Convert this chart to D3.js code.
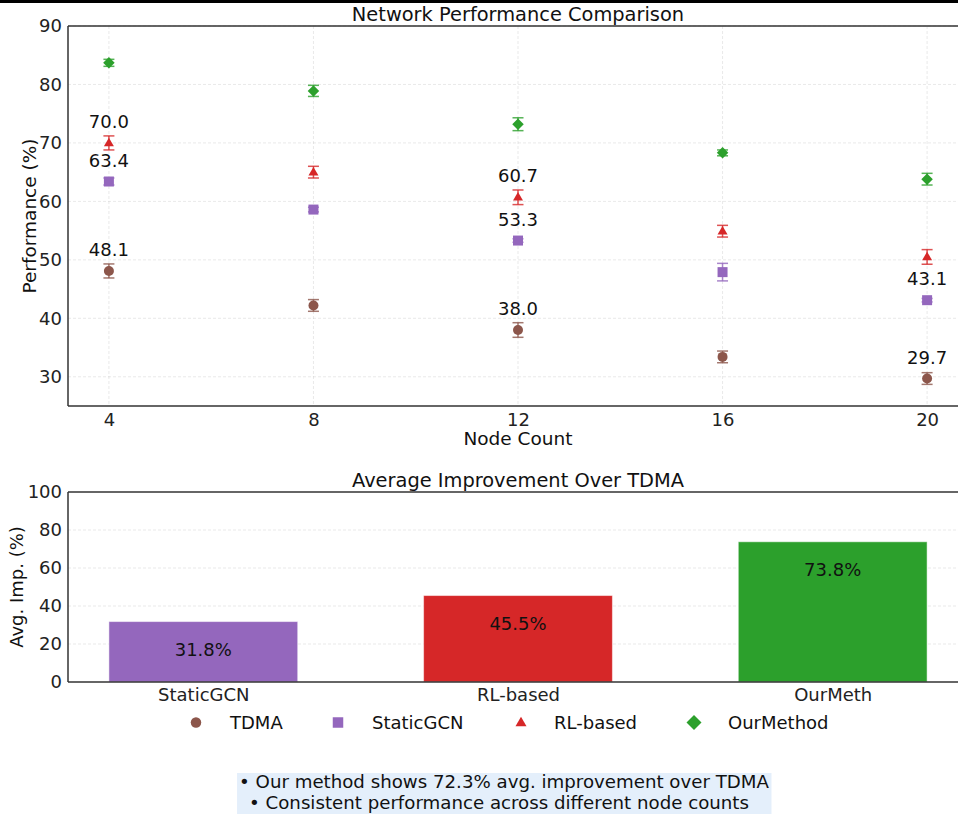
<!DOCTYPE html>
<html>
<head>
<meta charset="utf-8">
<script src="https://cdn.jsdelivr.net/npm/d3@7"></script>
<style>
  body { margin: 0; background: #fff; }
  svg { display: block; font-family: "DejaVu Sans", sans-serif; }
</style>
</head>
<body>
<svg id="chart" width="958" height="814"></svg>
<script>
// ---- data ----
const nodeCounts = [4, 8, 12, 16, 20];
const methodNames = ["TDMA", "StaticGCN", "RL-based", "OurMethod"];
const tdmaPerf = [48.1, 42.2, 38.0, 33.4, 29.7];
const tdmaErr = [1.2, 1.0, 1.25, 1.0, 1.0];
const staticGcnPerf = [63.4, 58.6, 53.3, 47.9, 43.1];
const staticGcnErr = [0.6, 0.4, 0.3, 1.5, 0.3];
const rlPerf = [70.0, 65.0, 60.7, 54.9, 50.5];
const rlErr = [1.2, 1.0, 1.25, 1.0, 1.25];
const ourPerf = [83.7, 78.9, 73.2, 68.3, 63.8];
const ourErr = [0.6, 0.95, 1.1, 0.5, 1.0];
// indices of points that carry a value label
const tdmaLabeled = [0, 2, 4];
const staticGcnLabeled = [0, 2, 4];
const rlLabeled = [0, 2];
const ourLabeled = [];
const perfTicks = [30, 40, 50, 60, 70, 80, 90];

const barCategories = ["StaticGCN", "RL-based", "OurMeth"];
const avgImprovement = [31.8, 45.5, 73.8];
const impTicks = [0, 20, 40, 60, 80, 100];

const noteLines = [
  "• Our method shows 72.3% avg. improvement over TDMA",
  "• Consistent performance across different node counts"
];

// ---- styling ----
const colors = { "TDMA": "#8c564b", "StaticGCN": "#9467bd", "RL-based": "#d62728", "OurMethod": "#2ca02c" };
const barColors = ["#9467bd", "#d62728", "#2ca02c"];
const seriesList = [
  { name: "TDMA", values: tdmaPerf, err: tdmaErr, labeled: tdmaLabeled, shape: "circle" },
  { name: "StaticGCN", values: staticGcnPerf, err: staticGcnErr, labeled: staticGcnLabeled, shape: "square" },
  { name: "RL-based", values: rlPerf, err: rlErr, labeled: rlLabeled, shape: "triangle" },
  { name: "OurMethod", values: ourPerf, err: ourErr, labeled: ourLabeled, shape: "diamond" }
];

function markerPath(shape, s) {
  // s = nominal marker width in px
  if (shape === "circle") return d3.symbol(d3.symbolCircle, Math.PI * (s / 2) * (s / 2))();
  if (shape === "square") return d3.symbol(d3.symbolSquare, s * s)();
  if (shape === "triangle") {
    const h = s * 0.85;
    return `M0,${-h / 2 - 1}L${s / 2},${h / 2 - 1}L${-s / 2},${h / 2 - 1}Z`;
  }
  // diamond
  const r = s / 2;
  return `M0,${-r}L${r},0L0,${r}L${-r},0Z`;
}

const svg = d3.select("#chart");
const W = 958;
const spineColor = "#333";
const gridStyle = sel => sel.attr("stroke", "#b0b0b0").attr("stroke-opacity", 0.35)
  .attr("stroke-width", 0.8).attr("stroke-dasharray", "3,2");

// thin dark band across the very top
svg.append("rect").attr("x", 0).attr("y", 0).attr("width", W).attr("height", 3).attr("fill", "#000");

// ================= upper panel: performance vs node count =================
const upper = { left: 68, right: 968, top: 26, bottom: 406 };
const x = d3.scaleLinear().domain([3.2, 20.8]).range([upper.left, upper.right]);
const y = d3.scaleLinear().domain([25, 90]).range([upper.bottom, upper.top]);

const gTop = svg.append("g");
// grid
gTop.append("g").selectAll("line").data(nodeCounts).join("line")
  .attr("x1", d => x(d)).attr("x2", d => x(d))
  .attr("y1", upper.top).attr("y2", upper.bottom).call(gridStyle);
gTop.append("g").selectAll("line").data(perfTicks).join("line")
  .attr("x1", upper.left).attr("x2", upper.right)
  .attr("y1", d => y(d)).attr("y2", d => y(d)).call(gridStyle);

// axes (labels only, no tick marks)
const xAxisTop = gTop.append("g").attr("transform", `translate(0,${upper.bottom})`)
  .call(d3.axisBottom(x).tickValues(nodeCounts).tickSize(0).tickPadding(7).tickFormat(d3.format("d")));
const yAxisTop = gTop.append("g").attr("transform", `translate(${upper.left},0)`)
  .call(d3.axisLeft(y).tickValues(perfTicks).tickSize(0).tickPadding(6));
[xAxisTop, yAxisTop].forEach(a => {
  a.select(".domain").remove();
  a.selectAll("text").attr("font-size", 18).attr("fill", "#222").attr("font-family", "DejaVu Sans");
});
xAxisTop.selectAll("text").attr("dy", "0.71em");

// spines
gTop.append("line").attr("x1", upper.left).attr("x2", upper.right).attr("y1", upper.top).attr("y2", upper.top)
  .attr("stroke", spineColor).attr("stroke-width", 1.5);
gTop.append("line").attr("x1", upper.left).attr("x2", upper.right).attr("y1", upper.bottom).attr("y2", upper.bottom)
  .attr("stroke", spineColor).attr("stroke-width", 1.5);
gTop.append("line").attr("x1", upper.left).attr("x2", upper.left).attr("y1", upper.top).attr("y2", upper.bottom)
  .attr("stroke", spineColor).attr("stroke-width", 1.5);

// series: error bars + markers + value labels
seriesList.forEach(s => {
  const g = gTop.append("g");
  const pts = nodeCounts.map((n, i) => ({ n, v: s.values[i], e: s.err[i], i }));
  const eb = g.selectAll("g.eb").data(pts).join("g").attr("class", "eb")
    .attr("stroke", colors[s.name]).attr("stroke-width", 1.5).attr("stroke-opacity", 0.8);
  eb.append("line").attr("x1", d => x(d.n)).attr("x2", d => x(d.n))
    .attr("y1", d => y(d.v - d.e)).attr("y2", d => y(d.v + d.e));
  eb.append("line").attr("x1", d => x(d.n) - 5.5).attr("x2", d => x(d.n) + 5.5)
    .attr("y1", d => y(d.v - d.e)).attr("y2", d => y(d.v - d.e));
  eb.append("line").attr("x1", d => x(d.n) - 5.5).attr("x2", d => x(d.n) + 5.5)
    .attr("y1", d => y(d.v + d.e)).attr("y2", d => y(d.v + d.e));
  const size = { circle: 10, square: 10, triangle: 10, diamond: 11.5 }[s.shape];
  g.selectAll("path.m").data(pts).join("path").attr("class", "m")
    .attr("d", markerPath(s.shape, size))
    .attr("transform", d => `translate(${x(d.n)},${y(d.v)})`)
    .attr("fill", colors[s.name]);
  g.selectAll("text").data(pts.filter(d => s.labeled.includes(d.i))).join("text")
    .attr("x", d => x(d.n)).attr("y", d => y(d.v) - 15)
    .attr("text-anchor", "middle").attr("font-size", 18).attr("fill", "#111")
    .text(d => d.v.toFixed(1));
});

// titles
svg.append("text").attr("x", (upper.left + upper.right) / 2).attr("y", 21)
  .attr("text-anchor", "middle").attr("font-size", 19.4).attr("fill", "#111")
  .text("Network Performance Comparison");
svg.append("text").attr("x", (upper.left + upper.right) / 2).attr("y", 445)
  .attr("text-anchor", "middle").attr("font-size", 18.5).attr("fill", "#111")
  .text("Node Count");
svg.append("text").attr("transform", `translate(36,${(upper.top + upper.bottom) / 2}) rotate(-90)`)
  .attr("text-anchor", "middle").attr("font-size", 18.5).attr("fill", "#111")
  .text("Performance (%)");

// ================= lower panel: average improvement =================
const lower = { left: 68, right: 968, top: 492, bottom: 682 };
const xb = d3.scaleLinear().domain([-0.43, 2.43]).range([lower.left, lower.right]);
const yb = d3.scaleLinear().domain([0, 100]).range([lower.bottom, lower.top]);
const barW = 0.6;
const gBot = svg.append("g");

gBot.append("g").selectAll("line").data(impTicks.filter(t => t > 0 && t < 100)).join("line")
  .attr("x1", lower.left).attr("x2", lower.right)
  .attr("y1", d => yb(d)).attr("y2", d => yb(d)).call(gridStyle);

const barData = barCategories.map((c, i) => ({ c, v: avgImprovement[i], i }));
gBot.selectAll("rect.bar").data(barData).join("rect").attr("class", "bar")
  .attr("x", d => xb(d.i - barW / 2)).attr("width", d => xb(d.i + barW / 2) - xb(d.i - barW / 2))
  .attr("y", d => yb(d.v)).attr("height", d => yb(0) - yb(d.v))
  .attr("fill", (d, i) => barColors[i])
  .attr("stroke", "#fff").attr("stroke-opacity", 0.5).attr("stroke-width", 1);
gBot.selectAll("text.bl").data(barData).join("text").attr("class", "bl")
  .attr("x", d => xb(d.i)).attr("y", d => yb(d.v) + 34.5)
  .attr("text-anchor", "middle").attr("font-size", 18).attr("fill", "#111")
  .text(d => d.v.toFixed(1) + "%");

const xAxisBot = gBot.append("g").attr("transform", `translate(0,${lower.bottom})`)
  .call(d3.axisBottom(xb).tickValues(barData.map(d => d.i)).tickSize(0).tickPadding(6)
    .tickFormat(i => barCategories[i]));
const yAxisBot = gBot.append("g").attr("transform", `translate(${lower.left},0)`)
  .call(d3.axisLeft(yb).tickValues(impTicks).tickSize(0).tickPadding(6));
[xAxisBot, yAxisBot].forEach(a => {
  a.select(".domain").remove();
  a.selectAll("text").attr("font-size", 18).attr("fill", "#222").attr("font-family", "DejaVu Sans");
});
xAxisBot.selectAll("text").attr("dy", "0.71em");

gBot.append("line").attr("x1", lower.left).attr("x2", lower.right).attr("y1", lower.top).attr("y2", lower.top)
  .attr("stroke", spineColor).attr("stroke-width", 1.5);
gBot.append("line").attr("x1", lower.left).attr("x2", lower.right).attr("y1", lower.bottom).attr("y2", lower.bottom)
  .attr("stroke", spineColor).attr("stroke-width", 1.5);
gBot.append("line").attr("x1", lower.left).attr("x2", lower.left).attr("y1", lower.top).attr("y2", lower.bottom)
  .attr("stroke", spineColor).attr("stroke-width", 1.5);

svg.append("text").attr("x", (lower.left + lower.right) / 2).attr("y", 487)
  .attr("text-anchor", "middle").attr("font-size", 19.4).attr("fill", "#111")
  .text("Average Improvement Over TDMA");
svg.append("text").attr("transform", `translate(23,${(lower.top + lower.bottom) / 2}) rotate(-90)`)
  .attr("text-anchor", "middle").attr("font-size", 18).attr("fill", "#111")
  .text("Avg. Imp. (%)");

// ================= legend =================
const legendX = [196, 338, 521, 694];
const legendTextX = [230, 372, 554, 728];
const legendSizes = { circle: 10.5, square: 10.5, triangle: 11, diamond: 15 };
const gLeg = svg.append("g");
seriesList.forEach((s, i) => {
  gLeg.append("path").attr("d", markerPath(s.shape, legendSizes[s.shape]))
    .attr("transform", `translate(${legendX[i]},${722.5})`).attr("fill", colors[s.name]);
  gLeg.append("text").attr("x", legendTextX[i]).attr("y", 729)
    .attr("font-size", 18).attr("fill", "#111").text(methodNames[i]);
});

// ================= note box =================
const gNote = svg.append("g");
const noteRect = gNote.append("rect").attr("fill", "#e4effb");
const noteText = gNote.append("g");
const noteCenters = [504, 499];
noteLines.forEach((t, i) => {
  noteText.append("text").attr("x", noteCenters[i]).attr("y", 788 + i * 20.5)
    .attr("text-anchor", "middle").attr("font-size", 18.2).attr("fill", "#111").text(t);
});
const bb = noteText.node().getBBox();
noteRect.attr("x", bb.x - 2).attr("y", 773).attr("width", bb.width + 4).attr("height", 50);
</script>
</body>
</html>
